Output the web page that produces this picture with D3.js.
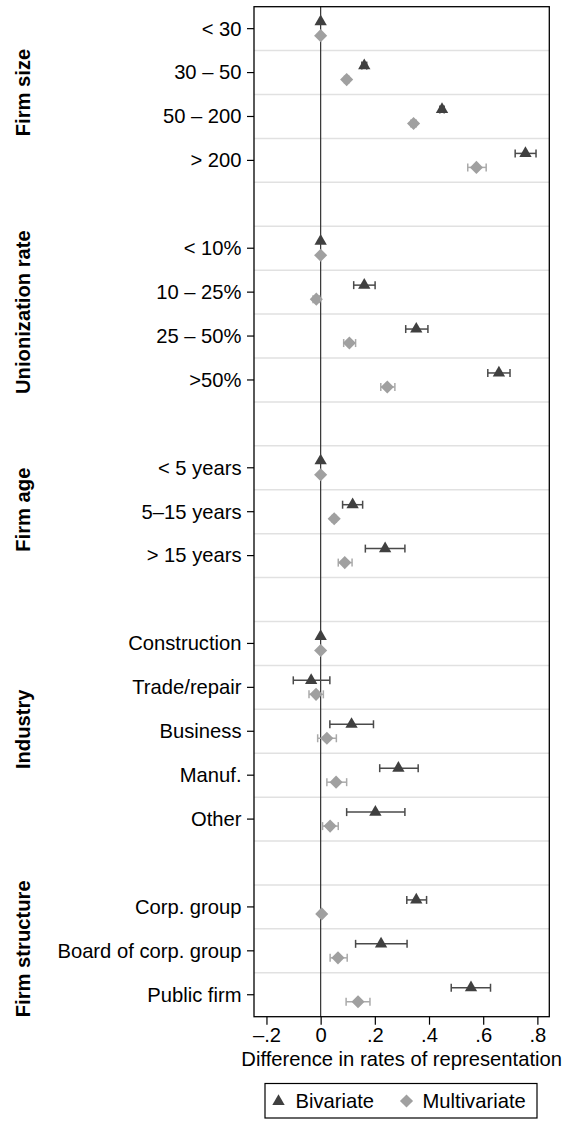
<!DOCTYPE html>
<html>
<head>
<meta charset="utf-8">
<script src="https://cdnjs.cloudflare.com/ajax/libs/d3/7.8.5/d3.min.js"></script>
<style>
  body { margin: 0; background: #fff; }
  svg { display: block; font-family: "Liberation Sans", Arial, Helvetica, sans-serif; }
</style>
</head>
<body>
<svg width="564" height="1121"></svg>
<script>
// groups and their categories (top to bottom)
const groupLabels = ["Firm size", "Unionization rate", "Firm age", "Industry", "Firm structure"];
const groupCategories = [
    ["< 30", "30 – 50", "50 – 200", "> 200"],
    ["< 10%", "10 – 25%", "25 – 50%", ">50%"],
    ["< 5 years", "5–15 years", "> 15 years"],
    ["Construction", "Trade/repair", "Business", "Manuf.", "Other"],
    ["Corp. group", "Board of corp. group", "Public firm"]
];

// Bivariate estimates and 95% CI (flat, same order as categories)
const bivEst = [0, 0.161, 0.448, 0.756,  0, 0.161, 0.353, 0.658,  0, 0.118, 0.238,  0, -0.035, 0.114, 0.287, 0.202,  0.353, 0.223, 0.555];
const bivLo  = [null, 0.152, 0.440, 0.718,  null, 0.122, 0.314, 0.617,  null, 0.081, 0.165,  null, -0.101, 0.034, 0.218, 0.096,  0.318, 0.129, 0.482];
const bivHi  = [null, 0.170, 0.456, 0.795,  null, 0.201, 0.396, 0.699,  null, 0.155, 0.311,  null, 0.034, 0.195, 0.360, 0.311,  0.391, 0.319, 0.627];

// Multivariate estimates and 95% CI
const mulEst = [0, 0.096, 0.343, 0.575,  0, -0.016, 0.106, 0.246,  0, 0.050, 0.089,  0, -0.017, 0.023, 0.057, 0.035,  0.004, 0.064, 0.138];
const mulLo  = [null, 0.088, 0.333, 0.543,  null, -0.028, 0.085, 0.222,  null, 0.042, 0.065,  null, -0.043, -0.011, 0.023, 0.007,  null, 0.035, 0.094];
const mulHi  = [null, 0.104, 0.353, 0.611,  null, -0.004, 0.129, 0.274,  null, 0.058, 0.116,  null, 0.010, 0.058, 0.096, 0.065,  null, 0.098, 0.182];

const xTicks = [-0.2, 0, 0.2, 0.4, 0.6, 0.8];
const xTitle = "Difference in rates of representation";
const seriesNames = ["Bivariate", "Multivariate"];

const svg = d3.select("svg");
const fontSize = 20.2;
const darkCol = "#404040", lightCol = "#a0a0a0";

const plotLeft = 254, plotRight = 549.3, plotTop = 6.7, plotBottom = 1016.7;

// row keys, with an empty row between groups
let rowKeys = [];
let points = [];
let k = 0;
groupCategories.forEach(function(cats, g) {
    cats.forEach(function(c) {
        rowKeys.push(c);
        points.push({cat: c, b: bivEst[k], bl: bivLo[k], bh: bivHi[k], m: mulEst[k], ml: mulLo[k], mh: mulHi[k]});
        k++;
    });
    if (g < groupCategories.length - 1) rowKeys.push("gap" + g);
});

const x = d3.scaleLinear().domain([-0.246, 0.844]).range([plotLeft, plotRight]);
const y = d3.scaleBand().domain(rowKeys).range([plotTop, plotBottom]).padding(0);
const yc = d => y(d) + y.bandwidth() / 2;

// gridlines between rows
svg.append("g").selectAll("line")
    .data(rowKeys.slice(1))
    .enter().append("line")
    .attr("x1", plotLeft).attr("x2", plotRight)
    .attr("y1", d => y(d)).attr("y2", d => y(d))
    .attr("stroke", "#e1e1e1").attr("stroke-width", 1.5);

// zero line
svg.append("line")
    .attr("x1", x(0)).attr("x2", x(0))
    .attr("y1", plotTop).attr("y2", plotBottom)
    .attr("stroke", "#333").attr("stroke-width", 1.2);

const off = 7;

function drawCI(g, lo, hi, yy, col) {
    g.append("line").attr("x1", x(lo)).attr("x2", x(hi)).attr("y1", yy).attr("y2", yy)
        .attr("stroke", col).attr("stroke-width", 1.5);
    [lo, hi].forEach(function(v) {
        g.append("line").attr("x1", x(v)).attr("x2", x(v)).attr("y1", yy - 4).attr("y2", yy + 4)
            .attr("stroke", col).attr("stroke-width", 1.5);
    });
}

const tri = d3.symbol().type(d3.symbolTriangle).size(66);
const dia = d3.symbol().type(d3.symbolSquare).size(86);

const marks = svg.append("g");
points.forEach(function(d) {
    const yb = yc(d.cat) - off, ym = yc(d.cat) + off;
    if (d.bl != null) drawCI(marks, d.bl, d.bh, yb, "#4a4a4a");
    if (d.ml != null) drawCI(marks, d.ml, d.mh, ym, "#aaaaaa");
    marks.append("path").attr("d", tri())
        .attr("transform", "translate(" + x(d.b) + "," + yb + ")")
        .attr("fill", darkCol);
    marks.append("path").attr("d", dia())
        .attr("transform", "translate(" + x(d.m) + "," + ym + ") rotate(45)")
        .attr("fill", lightCol);
});

// frame
svg.append("rect")
    .attr("x", plotLeft).attr("y", plotTop).attr("width", plotRight - plotLeft).attr("height", plotBottom - plotTop)
    .attr("fill", "none").attr("stroke", "#000").attr("stroke-width", 1.3);

// axes
const yAxis = svg.append("g")
    .attr("transform", "translate(" + plotLeft + ",0)")
    .call(d3.axisLeft(y).tickValues(points.map(d => d.cat)).tickSize(7).tickPadding(5.5));
yAxis.select(".domain").remove();
yAxis.selectAll("text").attr("font-size", fontSize).attr("fill", "#000").attr("dy", "0.34em");
yAxis.selectAll(".tick line").attr("stroke", "#000").attr("stroke-width", 1.2);
yAxis.attr("font-family", null);

const xAxis = svg.append("g")
    .attr("transform", "translate(0," + plotBottom + ")")
    .call(d3.axisBottom(x).tickValues(xTicks).tickSize(8).tickPadding(3.2)
        .tickFormat(function(v) {
            if (v == 0) return "0";
            let s = d3.format(".1f")(Math.abs(v)).replace(/^0/, "");
            return (v < 0 ? "–" : "") + s;
        }));
xAxis.select(".domain").remove();
xAxis.selectAll("text").attr("font-size", fontSize).attr("fill", "#000");
xAxis.selectAll(".tick line").attr("stroke", "#000").attr("stroke-width", 1.2);
xAxis.attr("font-family", null);

svg.append("text")
    .attr("x", (plotLeft + plotRight) / 2).attr("y", 1066)
    .attr("text-anchor", "middle").attr("font-size", fontSize)
    .text(xTitle);

// group titles
groupCategories.forEach(function(cats, g) {
    const y0 = yc(cats[0]), y1 = yc(cats[cats.length - 1]);
    const cy = (y0 + y1) / 2 - 2;
    svg.append("text")
        .attr("transform", "translate(30," + cy + ") rotate(-90)")
        .attr("text-anchor", "middle").attr("font-size", fontSize).attr("font-weight", "bold")
        .text(groupLabels[g]);
});

// legend
const leg = svg.append("g");
leg.append("rect").attr("x", 265).attr("y", 1083.5).attr("width", 272).attr("height", 34.5)
    .attr("fill", "none").attr("stroke", "#000").attr("stroke-width", 1.2);
leg.append("path").attr("d", tri()).attr("transform", "translate(278.5,1101.5)").attr("fill", darkCol);
leg.append("text").attr("x", 295.5).attr("y", 1108).attr("font-size", fontSize).text(seriesNames[0]);
leg.append("path").attr("d", dia()).attr("transform", "translate(406.5,1101) rotate(45)").attr("fill", lightCol);
leg.append("text").attr("x", 422.5).attr("y", 1108).attr("font-size", fontSize).text(seriesNames[1]);
</script>
</body>
</html>
